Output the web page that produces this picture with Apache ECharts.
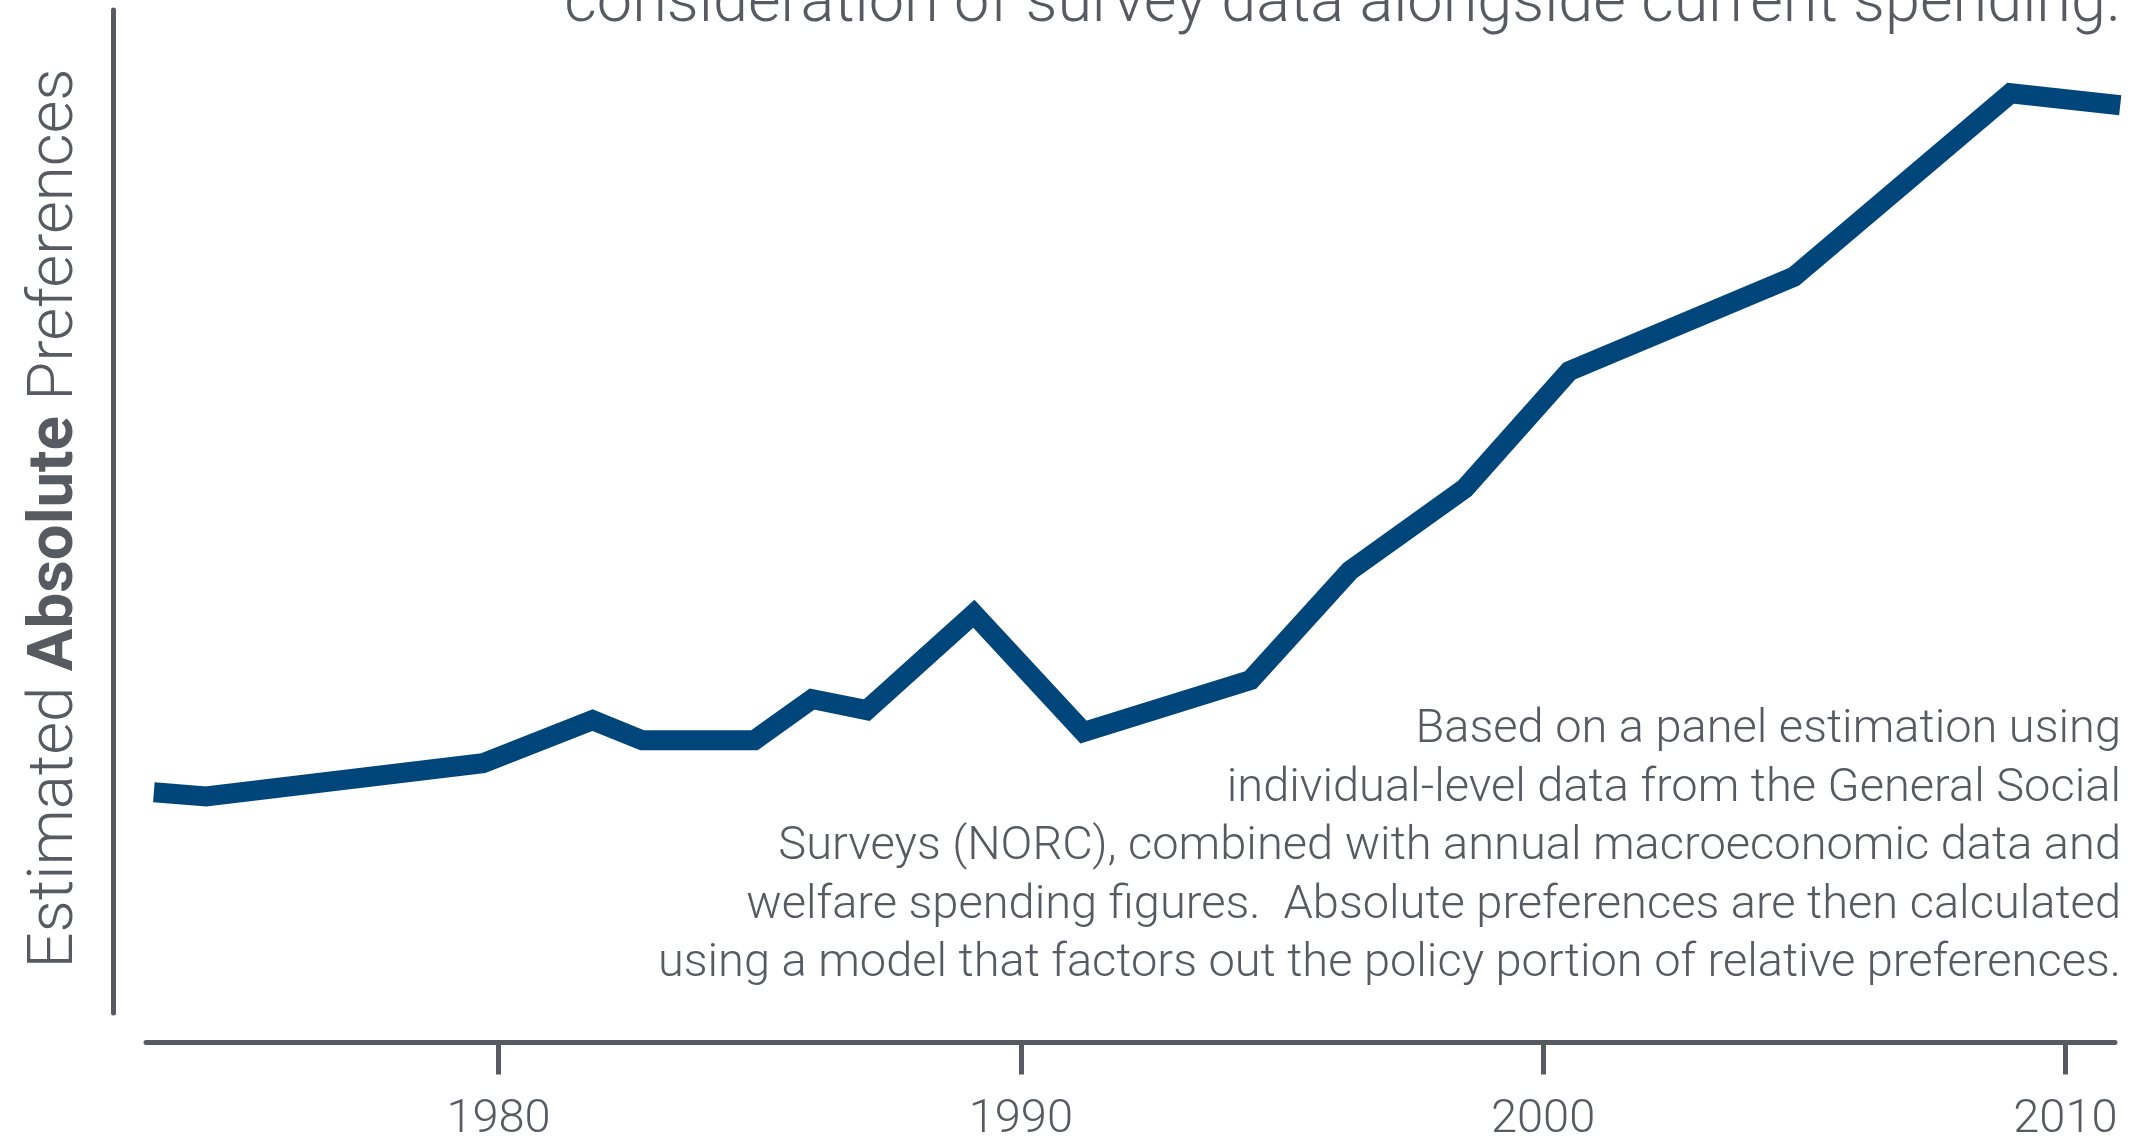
<!DOCTYPE html>
<html>
<head>
<meta charset="utf-8">
<title>Estimated Absolute Preferences</title>
<script src="https://cdn.jsdelivr.net/npm/echarts@6/dist/echarts.min.js"></script>
<style>
  html, body { margin: 0; padding: 0; background: #ffffff; }
  #chart { width: 2137px; height: 1139px; }
</style>
</head>
<body>
<div id="chart"></div>
<script>
// Survey years (x) and estimated absolute preference index (y)
const years = [1973.4, 1974.4, 1979.7, 1981.8, 1982.75, 1984.9, 1986.0, 1987.05, 1989.1, 1991.2, 1994.4, 1996.3, 1998.5, 2000.5, 2004.8, 2008.95, 2011.05];
const preference = [22.0, 21.6, 24.9, 29.2, 27.2, 27.2, 31.3, 30.2, 39.8, 28.0, 33.2, 44.1, 52.3, 64.0, 73.4, 91.7, 90.5];
const tickYears = [1980, 1990, 2000, 2010];

const titleText = 'consideration of survey data alongside current spending.';
const noteLines = [
  'Based on a panel estimation using',
  'individual-level data from the General Social',
  'Surveys (NORC), combined with annual macroeconomic data and',
  'welfare spending figures.  Absolute preferences are then calculated',
  'using a model that factors out the policy portion of relative preferences.'
];

const INK = '#575b61';
const LINE = '#00467a';
const FONT = 'Roboto, "Helvetica Neue", Arial, sans-serif';

const chart = echarts.init(document.getElementById('chart'), null, { renderer: 'canvas' });

// Right-aligned note block, one text element per line
const NOTE_RIGHT = 2121;
const NOTE_TOP = 701;
const NOTE_STEP = 58.6;
const noteGraphics = noteLines.map((line, i) => ({
  type: 'text',
  x: NOTE_RIGHT,
  y: NOTE_TOP + i * NOTE_STEP,
  silent: true,
  style: {
    text: line,
    align: 'right',
    verticalAlign: 'top',
    fontFamily: FONT, fontWeight: 300, fontSize: 47,
    lineHeight: NOTE_STEP,
    fill: INK
  }
}));

chart.setOption({
  animation: false,
  backgroundColor: '#ffffff',
  title: {
    text: titleText,
    right: 16,
    top: -26,
    padding: 0,
    textStyle: { fontFamily: FONT, fontWeight: 300, fontSize: 63, color: INK }
  },
  grid: { left: 146, right: 22, top: 10, bottom: 126, containLabel: false, outerBoundsMode: 'none' },
  xAxis: {
    type: 'value',
    min: 1973.25,
    max: 2010.95,
    offset: 29.5,
    axisLine: { onZero: false, lineStyle: { color: INK, width: 5 } },
    axisTick: { show: true, customValues: tickYears, length: 32, lineStyle: { color: INK, width: 5 } },
    axisLabel: {
      customValues: tickYears,
      margin: 54,
      fontFamily: FONT, fontWeight: 300, fontSize: 47, color: INK,
      formatter: v => String(v)
    },
    splitLine: { show: false }
  },
  yAxis: {
    type: 'value',
    min: 0,
    max: 100,
    offset: 32.5,
    name: '{l|Estimated }{b|Absolute}{l| Preferences}',
    nameLocation: 'middle',
    nameRotate: 90,
    nameGap: 26,
    nameTextStyle: {
      padding: [0, 14, 0, 0],
      rich: {
        l: { fontFamily: FONT, fontWeight: 300, fontSize: 63.5, color: INK, lineHeight: 63.5 },
        b: { fontFamily: FONT, fontWeight: 'bold', fontSize: 63.5, color: INK, lineHeight: 63.5 }
      }
    },
    axisLine: { show: true, onZero: false, lineStyle: { color: INK, width: 5 } },
    axisTick: { show: false },
    axisLabel: { show: false },
    splitLine: { show: false }
  },
  graphic: noteGraphics,
  series: [{
    type: 'line',
    data: years.map((y, i) => [y, preference[i]]),
    symbol: 'none',
    clip: false,
    silent: true,
    lineStyle: { color: LINE, width: 20, cap: 'butt', join: 'miter', miterLimit: 10 }
  }]
});
</script>
</body>
</html>
